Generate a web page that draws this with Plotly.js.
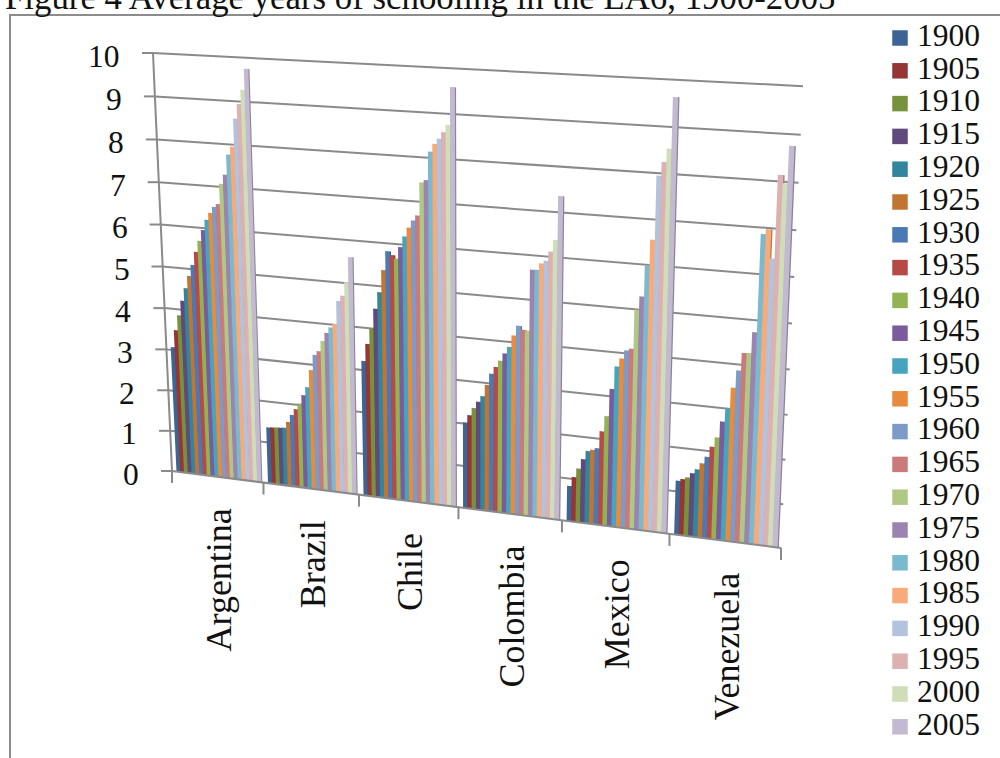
<!DOCTYPE html>
<html>
<head>
<meta charset="utf-8">
<script src="https://cdn.plot.ly/plotly-3.0.1.min.js"></script>
<style>
  html, body { margin: 0; padding: 0; background: #fff; overflow: hidden; width: 1000px; height: 758px; }
  #chart { position: absolute; left: 0; top: -20px; width: 1000px; height: 778px; }
</style>
</head>
<body>
<div id="chart"></div>
<script>
// Average years of schooling, one column per five-year benchmark in each country.
const countries = ["Argentina", "Brazil", "Chile", "Colombia", "Mexico", "Venezuela"];
const years = ["1900","1905","1910","1915","1920","1925","1930","1935","1940","1945","1950",
               "1955","1960","1965","1970","1975","1980","1985","1990","1995","2000","2005"];
const argentina = [3.07,3.49,3.86,4.22,4.53,4.83,5.10,5.42,5.69,5.95,6.20,6.37,6.52,6.59,7.07,7.29,7.76,7.95,8.60,8.94,9.27,9.75];
const brazil    = [1.37,1.38,1.39,1.40,1.41,1.56,1.74,1.89,2.04,2.25,2.45,2.87,3.24,3.34,3.59,3.79,3.93,4.02,4.57,4.70,5.02,5.61];
const chile     = [3.22,3.63,4.00,4.47,4.86,5.38,5.82,5.74,5.67,5.94,6.19,6.40,6.57,6.69,7.44,7.50,8.14,8.32,8.44,8.59,8.76,9.59];
const colombia  = [2.03,2.21,2.39,2.55,2.69,2.96,3.23,3.40,3.55,3.73,3.89,4.16,4.39,4.31,4.30,5.68,5.69,5.84,5.91,6.12,6.39,7.36];
const mexico    = [0.83,1.05,1.26,1.49,1.69,1.73,1.78,2.18,2.54,3.17,3.69,3.88,4.07,4.12,5.00,5.30,5.99,6.56,7.95,8.25,8.54,9.64];
const venezuela = [1.25,1.30,1.35,1.46,1.56,1.71,1.87,2.11,2.33,2.70,3.01,3.48,3.87,4.27,4.28,4.74,6.87,6.98,6.36,8.14,7.97,8.76];
const seriesByCountry = [argentina, brazil, chile, colombia, mexico, venezuela];
const valueTicks = [0,1,2,3,4,5,6,7,8,9,10];
const colors = ["#3C6595","#963634","#78923C","#604A7B","#31859C","#C27532","#4A7AB5","#B54A47",
                "#93B254","#7A5C9E","#46A5BE","#E98B3D","#7D9BC9","#C97B7B","#B0C884","#9B85B0",
                "#7BB9CF","#F8AB78","#B3C2DD","#DDB0B1","#CFDDB9","#C3B9D1"];
const sideColors = colors.map(c => {
  const n = parseInt(c.slice(1), 16);
  const d = v => Math.round(v * 0.72);
  return `rgb(${d(n >> 16)},${d((n >> 8) & 255)},${d(n & 255)})`;
});

// Perspective view of the chart box: t runs along the categories (0..6), v up the value axis.
// The columns stand in front of the back wall, so their right end leans slightly less.
function along(t) { return (89.33 * t + 2 * t * t) / 608; }
function project(t, v, rightBase, rightLean) {
  const u = along(t);
  const xLeft = 172 - 1.9 * v, xRight = rightBase + rightLean * v;
  const yLeft = 471 - 40 * v - 0.18 * v * v, yRight = 548 - 43.6 * v - 0.258 * v * v;
  return [xLeft * (1 - u) + xRight * u, yLeft * (1 - u) + yRight * u];
}
const wall = (t, v) => project(t, v, 781, 2.2);
const column = (t, v) => project(t, v, 780, 1.95);

const AXIS = "#8a8a8a";
const SERIF = "Liberation Serif, serif";
const traces = [];

function pathTrace(points, color, width) {
  traces.push({
    type: "scatter", mode: "lines", x: points.map(p => p ? p[0] : null), y: points.map(p => p ? p[1] : null),
    line: { color: color, width: width }, hoverinfo: "skip", showlegend: false
  });
}

// Back-wall gridlines and their stubs on the value axis
const gridPts = [];
valueTicks.forEach(v => {
  const a = wall(0, v), b = wall(6, v);
  if (v > 0) gridPts.push(a, b, null);
  gridPts.push([a[0] - 11, a[1]], a, null);
});
pathTrace(gridPts, AXIS, 2);

// Columns: a narrow shaded side, then the front face
const startT = 0.05, groupT = 0.925, barT = groupT / years.length;
years.forEach((year, k) => {
  const side = { x: [], y: [] }, front = { x: [], y: [] };
  seriesByCountry.forEach((vals, c) => {
    const t0 = c + startT + k * barT, t1 = t0 + barT;
    const v = vals[k];
    const add = (tr, ta, tb) => {
      [[ta,0],[tb,0],[tb,v],[ta,v],[ta,0]].forEach(q => {
        const p = column(q[0], q[1]);
        tr.x.push(p[0]); tr.y.push(p[1]);
      });
      tr.x.push(null); tr.y.push(null);
    };
    add(side, t1 - 0.004, t1 + 0.015);
    add(front, t0, t1 + 0.004);
  });
  traces.push({ type: "scatter", mode: "lines", x: side.x, y: side.y, fill: "toself",
    fillcolor: sideColors[k], line: { width: 0, color: sideColors[k] }, hoverinfo: "skip", showlegend: false });
  traces.push({ type: "scatter", mode: "lines", name: year, x: front.x, y: front.y, fill: "toself",
    fillcolor: colors[k], line: { width: 0, color: colors[k] }, hoverinfo: "skip", showlegend: false });
});

// Axis lines, floor edge and category ticks
pathTrace(valueTicks.map(v => wall(0, v)), AXIS, 2);
const floorPts = [wall(0, 0), wall(6, 0), null];
countries.concat([""]).forEach((_, c) => {
  const p = wall(c, 0);
  floorPts.push(p, [p[0], p[1] + 12], null);
});
pathTrace(floorPts, AXIS, 2);

// Frame of the chart area
pathTrace([[10, 758], [10, 15], [1000, 15]], "#8c8c8c", 2);

// Key: one swatch and label per benchmark year
const keyRows = years.map((_, k) => 38 + k * 32.8);
traces.push({
  type: "scatter", mode: "markers", x: years.map(() => 900), y: keyRows,
  marker: { symbol: "square", size: 15.5, color: colors, line: { width: 0 } },
  hoverinfo: "skip", showlegend: false, cliponaxis: false
});
traces.push({
  type: "scatter", mode: "text", x: years.map(() => 917), y: keyRows, text: years,
  textposition: "middle right", textfont: { family: SERIF, size: 31.5, color: "#111" },
  hoverinfo: "skip", showlegend: false, cliponaxis: false
});

const annotations = [];
valueTicks.forEach(v => {
  const p = wall(0, v);
  annotations.push({ x: p[0] - 31, y: p[1] + 3, xref: "x", yref: "y", text: String(v), showarrow: false,
    xanchor: "right", yanchor: "middle", font: { family: SERIF, size: 31.5, color: "#111" } });
});
countries.forEach((name, c) => {
  const p = wall(c + 0.5, 0);
  annotations.push({ x: p[0] + 2, y: p[1] + 30, xref: "x", yref: "y", text: name, showarrow: false, textangle: -90,
    xanchor: "center", yanchor: "top", font: { family: SERIF, size: 36, color: "#111" } });
});

const layout = {
  width: 1000, height: 778, showlegend: false,
  paper_bgcolor: "#fff", plot_bgcolor: "#fff",
  margin: { l: 0, r: 0, t: 0, b: 0 },
  title: {
    text: "Figure 4 Average years of schooling in the LA6, 1900-2005",
    x: 0.005, xref: "container", xanchor: "left", y: 1, yref: "container", yanchor: "top",
    pad: { t: 5 }, font: { family: SERIF, size: 34.8, color: "#111" }
  },
  xaxis: { range: [0, 1000], visible: false, fixedrange: true },
  yaxis: { range: [758, -20], visible: false, fixedrange: true },
  annotations: annotations
};

Plotly.newPlot("chart", traces, layout, { displayModeBar: false, staticPlot: true });
</script>
</body>
</html>
